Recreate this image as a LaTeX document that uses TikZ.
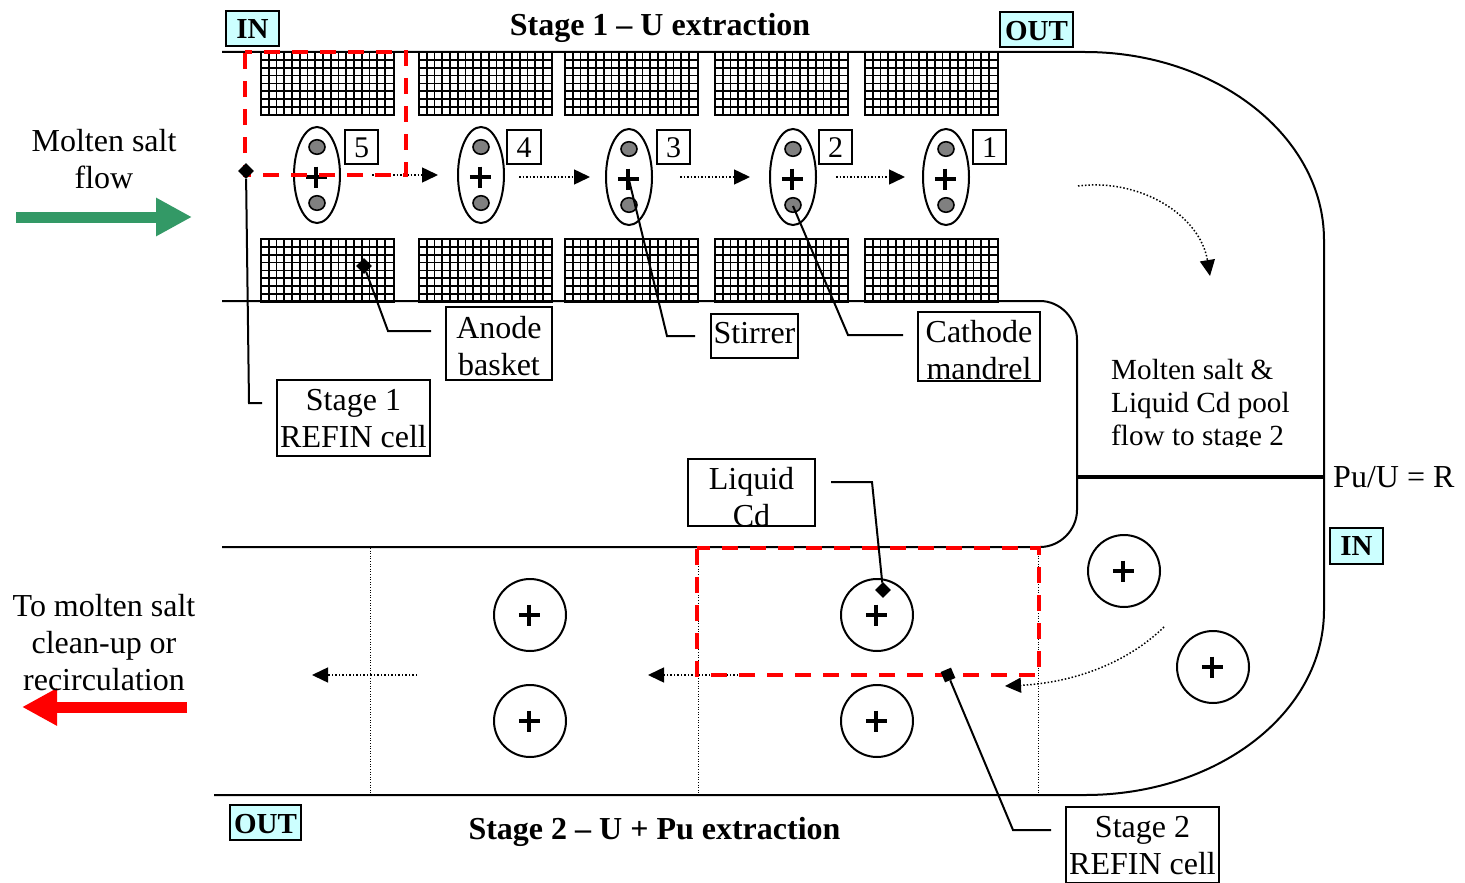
\documentclass[tikz,border=0pt]{standalone}
\usepackage{fontspec}
\setmainfont{Liberation Serif}
\usetikzlibrary{shapes.geometric,arrows.meta}
\newcommand{\fs}[1]{\fontsize{#1}{#1}\selectfont}
\newcommand{\drop}[2]{\raisebox{-#1}[\height][\depth]{#2}}
\newcommand{\basket}[2]{%
  \begin{scope}[shift={(#1,#2)}]
    \foreach \gi in {1,...,16}{\draw[gridline] (7.75*\gi,0) -- (7.75*\gi,63);}
    \foreach \gj in {1,...,7}{\draw[gridline] (0,7.85*\gj) -- (133,7.85*\gj);}
    \draw[line width=2.6pt] (0,0) rectangle (133,63);
  \end{scope}}
% name, x1, y1, x2, y2, first baseline, text
\newcommand{\labelbox}[7]{%
  \begin{scope}
    \clip (#2,#3) rectangle (#4,#5);
    \node[boxtext,anchor=north] at ({(#2+#4)/2},{#6-25.9}) {\strut #7};
  \end{scope}
  \node[draw,line width=2pt,minimum width=#4 pt-#2 pt,minimum height=#5 pt-#3 pt,inner sep=0pt] (#1) at ({(#2+#4)/2},{(#3+#5)/2}) {};}
\newcommand{\tagbox}[6]{%
  \node[draw,line width=2pt,fill=tagcyan,font=\fs{29}\bfseries,minimum width=#4 pt-#2 pt,minimum height=#5 pt-#3 pt,inner sep=0pt] (#1) at ({(#2+#4)/2},{(#3+#5)/2}) {#6};}
\newcommand{\numbox}[3]{%
  \node[draw,line width=2pt,font=\fs{30},minimum width=33.5pt,minimum height=34pt,inner sep=0pt] (#1) at (#2,147) {\drop{1pt}{#3}};}
\newcommand{\cell}[3]{%
  \node[ellipse,draw,line width=2pt,minimum width=46pt,minimum height=96pt,inner sep=0pt] (e#1) at (#2,#3) {};
  \node[plussign] (p#1) at (#2-0.6,#3+2) {};
  \node[ellipse,draw,line width=1.6pt,fill=gray,minimum width=16pt,minimum height=14.5pt,inner sep=0pt] (t#1) at (#2,#3-28) {};
  \node[ellipse,draw,line width=1.6pt,fill=gray,minimum width=16pt,minimum height=14.5pt,inner sep=0pt] (b#1) at (#2,#3+28) {};}
\newcommand{\disc}[3]{%
  \node[circle,draw,line width=2pt,minimum size=72pt,inner sep=0pt] (#1) at (#2,#3) {};
  \node[plussign] at (#2-0.6,#3) {};}
\definecolor{tagcyan}{HTML}{CCFFFF}
\definecolor{flowgreen}{HTML}{339966}
\tikzset{
  gridline/.style={line width=1.7pt},
  boxtext/.style={font=\fontsize{32}{37}\selectfont,align=center,inner sep=0pt},
  plussign/.style={inner sep=0pt,minimum size=0pt,
    append after command={
      (\tikzlastnode.center) ++(-10.5,0) edge[line width=4pt,-] ++(21,0)
      (\tikzlastnode.center) ++(0,-10.5) edge[line width=4pt,-] ++(0,21)}},
  wall/.style={line width=2pt},
  dotflow/.style={line width=1.5pt,dash pattern=on 1.5pt off 2pt,-{Triangle[length=16pt,width=15pt,sep=0pt]}},
  dotdiv/.style={line width=1pt,dash pattern=on 1pt off 1.6pt},
  redcell/.style={draw=red,line width=4.3pt,dash pattern=on 16pt off 12pt},
  leader/.style={line width=2pt},
  pin/.style={diamond,fill=black,inner sep=0pt,minimum size=16pt},
}
\begin{document}
\begin{tikzpicture}[x=1pt,y=-1pt]
\useasboundingbox (0,0) rectangle (1465,883);
% walls
\draw[wall] (222,52) -- (1085,52) .. controls (1216,52) and (1324,136) .. (1324,240) -- (1324,610) .. controls (1324,714) and (1216,795) .. (1085,795) -- (214,795);
\draw[wall] (222,301) -- (1040,301) .. controls (1060,301) and (1077,318) .. (1077,340) -- (1077,510) .. controls (1077,530) and (1060,547) .. (1040,547) -- (222,547);
\draw[line width=3.2pt] (1077,477) -- (1324,477);
% dividers
\coordinate (d1a) at (370,548); \coordinate (d1b) at (370,795);
\coordinate (d2a) at (698,548); \coordinate (d2b) at (698,795);
\coordinate (d3a) at (1038,548); \coordinate (d3b) at (1038,795);
\draw[dotdiv] (d1a) -- (d1b);
\draw[dotdiv] (d2a) -- (d2b);
\draw[dotdiv] (d3a) -- (d3b);
% baskets
\foreach \bx in {261,419,565,715,865}{\basket{\bx}{52}\basket{\bx}{239}}
% stage 1 cells
\cell{5}{317}{175}
\cell{4}{481}{175}
\cell{3}{629}{177}
\cell{2}{793}{177}
\cell{1}{946}{177}
\numbox{n5}{361.5}{5}
\numbox{n4}{524}{4}
\numbox{n3}{673.5}{3}
\numbox{n2}{835.5}{2}
\numbox{n1}{989.5}{1}
% stage 2 electrodes
\disc{c1}{530}{615}
\disc{c2}{530}{721}
\disc{c3}{877}{615}
\disc{c4}{877}{721}
\disc{c5}{1124}{571}
\disc{c6}{1213}{667}
% dotted flow arrows
\coordinate (f1a) at (372,175); \coordinate (f1b) at (438,175);
\coordinate (f2a) at (519,177); \coordinate (f2b) at (590,177);
\coordinate (f3a) at (680,177); \coordinate (f3b) at (750,177);
\coordinate (f4a) at (836,177); \coordinate (f4b) at (905,177);
\coordinate (f5a) at (1078,186); \coordinate (f5b) at (1210,276);
\coordinate (f6a) at (1164,627); \coordinate (f6b) at (1005,686);
\coordinate (f7a) at (738,675); \coordinate (f7b) at (648,675);
\coordinate (f8a) at (417,675); \coordinate (f8b) at (312,675);
\draw[dotflow] (f1a) -- (f1b);
\draw[dotflow] (f2a) -- (f2b);
\draw[dotflow] (f3a) -- (f3b);
\draw[dotflow] (f4a) -- (f4b);
\draw[dotflow] (f5a) .. controls (1140,178) and (1200,215) .. (f5b);
\draw[dotflow] (f6a) .. controls (1125,665) and (1070,683) .. (f6b);
\draw[dotflow] (f7a) -- (f7b);
\draw[dotflow] (f8a) -- (f8b);
% red dashed cells
\draw[redcell,dash phase=9pt] (245,52) -- (406,52) -- (406,175) -- (245,175) -- cycle;
\draw[redcell,dash phase=3pt] (697,548) -- (1039,548) -- (1039,675) -- (697,675) -- cycle;
% big arrows
\coordinate (ga) at (16,217); \coordinate (gb) at (192,217);
\coordinate (ra) at (187,707); \coordinate (rb) at (22,707);
\draw[flowgreen,line width=11pt,-{Triangle[length=36pt,width=36pt]}] (ga) -- (gb);
\draw[red,line width=11pt,-{Triangle[length=35pt,width=35pt]}] (ra) -- (rb);
% texts
\node[boxtext] (tflow) at (104,159.5) {Molten salt\\flow};
\node[boxtext] (tclean) at (104,642.5) {To molten salt\\clean-up or\\recirculation};
\node[font=\fs{32}\bfseries,inner sep=0pt] (t1) at (660,27.5) {Stage 1 -- U extraction};
\node[font=\fs{32}\bfseries,inner sep=0pt] (t2) at (654.5,832) {Stage 2 -- U + Pu extraction};
\node[font=\fs{32},anchor=base west,inner sep=0pt] (pu) at (1333,487) {Pu/U = R};
\begin{scope}
  \clip (1100,350) rectangle (1310,446.5);
  \node[font=\fontsize{29.2}{33}\selectfont,align=left,anchor=north west,inner sep=0pt] (pool) at (1111,356.4) {\strut Molten salt \&\\Liquid Cd pool\\flow to stage 2};
\end{scope}
% tags
\tagbox{in1}{226}{11}{279}{46}{\drop{1pt}{IN}}
\tagbox{out1}{1000}{12}{1073}{47}{\drop{2pt}{OUT}}
\tagbox{in2}{1330}{528}{1383}{564}{IN}
\tagbox{out2}{230}{805}{301}{840}{\drop{2pt}{OUT}}
% label boxes
\labelbox{anode}{446}{307}{552}{380}{338}{Anode\\basket}
\labelbox{stirrer}{711}{314}{798}{358}{343}{Stirrer}
\labelbox{cathode}{918}{312}{1040}{381}{342}{Cathode\\mandrel}
\labelbox{refin1}{277}{380}{430}{456}{410.5}{Stage 1\\REFIN cell}
\labelbox{liquid}{688}{459}{815}{526}{489}{Liquid\\Cd}
\labelbox{refin2}{1066}{807}{1219}{883}{837.5}{Stage 2\\REFIN cell}
% pins and leaders
\node[pin] (pin1) at (246,171) {};
\node[pin] (pin2) at (364,266) {};
\node[pin] (pin3) at (883,590) {};
\node[pin,rotate=-22] (pin4) at (948,675) {};
\coordinate (l1) at (262,403);
\coordinate (l2) at (431,331);
\coordinate (l3) at (695,336);
\coordinate (l4) at (903,335);
\coordinate (l5) at (831,482);
\coordinate (l6) at (1051,830);
\coordinate (s3) at (629,180);
\coordinate (s2) at (793,206);
\draw[leader] (pin1) -- (249,403) -- (l1);
\draw[leader] (pin2) -- (388,331) -- (l2);
\draw[leader] (s3) -- (667,336) -- (l3);
\draw[leader] (s2) -- (848,335) -- (l4);
\draw[leader] (l5) -- (872,482) -- (pin3);
\draw[leader] (pin4) -- (1013,830) -- (l6);
\end{tikzpicture}
\end{document}
